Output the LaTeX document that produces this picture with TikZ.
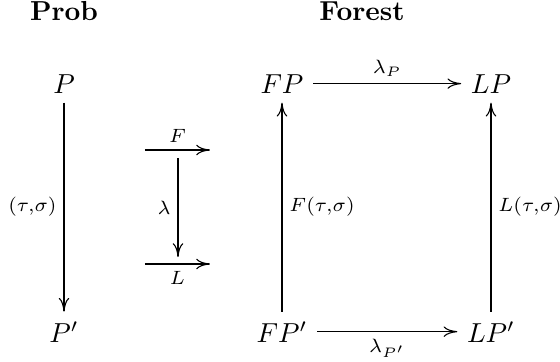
\documentclass[tikz,border=0pt]{standalone}
\usepackage{amsmath,amssymb}
\usepackage{xcolor}
\usepackage{tikz}
\usetikzlibrary{arrows.meta,positioning,calc}

\begin{document}
\begin{tikzpicture}[x=0.01278cm,y=-0.01278cm,>={Computer Modern Rightarrow[length=5pt,width=3.8pt]},lbl/.style={inner sep=2.5pt}]
  \useasboundingbox (0,0) rectangle (560,362);
  \node[anchor=base] (prob) at (64,20) {\textbf{Prob}};
  \node[anchor=base] (forest) at (362,20) {\textbf{Forest}};
  \node[anchor=base] (p) at (64,93) {$P$};
  \node[anchor=base] (pp) at (64,342) {$P'$};
  \node[anchor=base] (fp) at (282,93) {$FP$};
  \node[anchor=base] (lp) at (491,93) {$LP$};
  \node[anchor=base] (fpp) at (282,342) {$FP'$};
  \node[anchor=base] (lpp) at (491,342) {$LP'$};
  \draw[->] (p) -- node[left,lbl]{$\scriptstyle(\tau,\sigma)$} (pp);
  \draw[->] (fp) -- node[above,lbl]{$\scriptstyle\lambda_P$} (lp);
  \draw[->] (fpp) -- node[below,lbl]{$\scriptstyle\lambda_{P'}$} (lpp);
  \draw[->] (fpp) -- node[right,lbl]{$\scriptstyle F(\tau,\sigma)$} (fp);
  \draw[->] (lpp) -- node[right,lbl]{$\scriptstyle L(\tau,\sigma)$} (lp);
  \coordinate (f0) at (145,150);
  \coordinate (f1) at (210,150);
  \coordinate (l0) at (145,264);
  \coordinate (l1) at (210,264);
  \coordinate (m0) at (178,158);
  \coordinate (m1) at (178,257);
  \draw[->] (f0) -- node[above,lbl]{$\scriptstyle F$} (f1);
  \draw[->] (l0) -- node[below,lbl]{$\scriptstyle L$} (l1);
  \draw[->] (m0) -- node[left,lbl]{$\scriptstyle\lambda$} (m1);
\end{tikzpicture}
\end{document}
